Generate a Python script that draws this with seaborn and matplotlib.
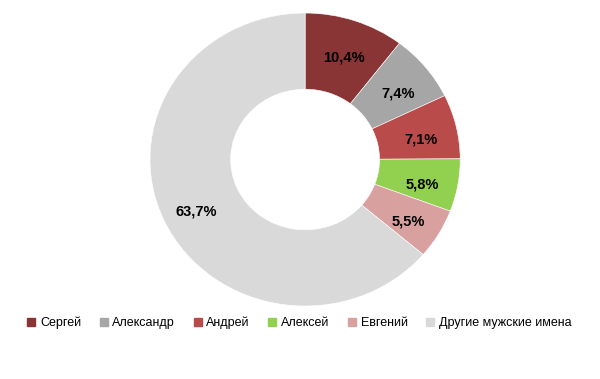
import matplotlib
matplotlib.use("Agg")
import matplotlib.pyplot as plt
from matplotlib.lines import Line2D
import numpy as np
import seaborn as sns

names = ["Сергей", "Александр", "Андрей", "Алексей", "Евгений", "Другие мужские имена"]
shares = [10.4, 7.4, 7.1, 5.8, 5.5, 63.7]
labels = ["10,4%", "7,4%", "7,1%", "5,8%", "5,5%", "63,7%"]
colors = ["#893536", "#A6A6A6", "#BA4B4B", "#92D050", "#D9A0A0", "#D9D9D9"]

sns.set_theme(style="white")
plt.rcParams['font.family'] = ['Liberation Sans', 'DejaVu Sans']

fig = plt.figure(figsize=(6, 3.79), dpi=100)
# slightly wider than tall, like the original
ax = fig.add_axes([0.25, 0.1926, 0.517, 0.773])
palette = sns.color_palette(colors)

wedges, _ = ax.pie(shares, colors=palette, startangle=90, counterclock=False,
                   wedgeprops=dict(width=0.52, linewidth=0.4, edgecolor="white"))
# percentage labels in the middle of the ring (a bit below the radial midpoint)
for w, lab in zip(wedges, labels):
    ang = np.deg2rad((w.theta1 + w.theta2) / 2)
    r = 0.77
    ax.text(r * np.cos(ang), r * np.sin(ang) - 0.035, lab, ha="center", va="center",
            fontsize=10.5, fontweight="bold", color="black")
ax.set_aspect("auto")
ax.set_xlim(-1, 1)
ax.set_ylim(-1, 1)

handles = [Line2D([0], [0], marker="s", linestyle="", markersize=6,
                  markerfacecolor=c, markeredgecolor=c) for c in colors]
fig.legend(handles, names, loc="center", bbox_to_anchor=(0.497, 0.148), ncol=6,
           frameon=False, fontsize=9, handletextpad=0.2, columnspacing=1.3,
           handlelength=1.0, labelcolor="black")

fig.savefig("out.png", dpi=100)
